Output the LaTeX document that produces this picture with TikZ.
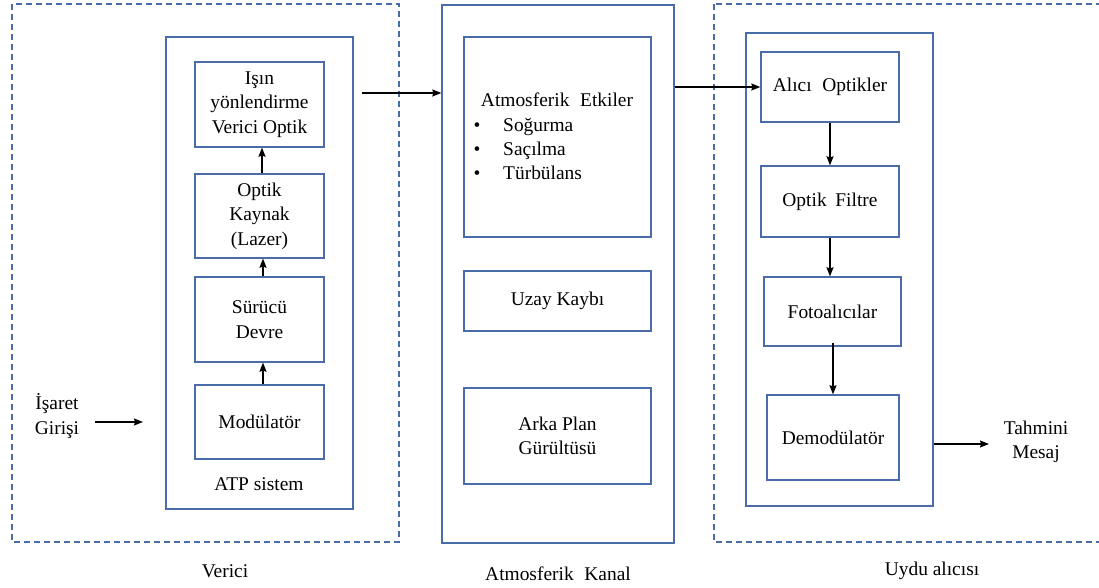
\documentclass[tikz,border=0pt]{standalone}
\usepackage{fontspec}
\setmainfont{Liberation Serif}
\usetikzlibrary{arrows.meta}
\definecolor{bord}{RGB}{74,108,170}
\tikzset{
  blk/.style={draw=bord, line width=1.3bp, rectangle, inner sep=0pt, align=center},
  grp/.style={draw=bord, line width=1.3bp, dash pattern=on 6bp off 4bp},
  arr/.style={draw=black, line width=1.3bp, -{Stealth[length=9bp,width=7bp,inset=1bp]}},
  lbl/.style={inner sep=0pt, align=center},
}
\begin{document}
\begin{tikzpicture}[x=1bp,y=-1bp,font=\fontsize{19.5}{24.5}\selectfont]
\clip (0,0) rectangle (1099,588);
\fill[white] (0,0) rectangle (1099,588);
% dashed group borders
\draw[grp] (12,4) rectangle (399,542);
\draw[grp] (714,4) rectangle (1120,542);
% Verici
\node[blk, minimum width=187bp, minimum height=472bp] (atp) at (259.5,273) {};
\node[blk, minimum width=129bp, minimum height=85bp] (isin) at (259.5,104.5) {Işın\\yönlendirme\\Verici Optik};
\node[blk, minimum width=129bp, minimum height=84bp] (kay) at (259.5,216) {Optik\\Kaynak\\(Lazer)};
\node[blk, minimum width=129bp, minimum height=85bp] (sur) at (259.5,319.5) {Sürücü\\Devre};
\node[blk, minimum width=129bp, minimum height=74bp] (mod) at (259.5,422) {Modülatör};
\node[lbl] (atplbl) at (259,484) {ATP sistem};
\node[lbl] (isaret) at (57,416) {İşaret\\Girişi};
\node[lbl] (verici) at (225,571) {Verici};
\coordinate (inA) at (95,422);
\coordinate (inB) at (143,422);
\draw[arr] (inA) -- (inB);
\draw[arr] ([xshift=3.5bp]mod.north) -- ([xshift=3.5bp]sur.south);
\draw[arr] ([xshift=3.5bp]sur.north) -- ([xshift=3.5bp]kay.south);
\draw[arr] ([xshift=2.5bp]kay.north) -- ([xshift=2.5bp]isin.south);
% Channel
\node[blk, minimum width=232bp, minimum height=538bp] (chan) at (558,274) {};
\node[blk, minimum width=187bp, minimum height=200bp] (etk) at (557.5,137) {};
\node[blk, minimum width=187bp, minimum height=60bp] (uzay) at (557.5,301) {Uzay Kaybı};
\node[blk, minimum width=187bp, minimum height=96bp] (arka) at (557.5,436) {Arka Plan\\Gürültüsü};
\node[lbl] (etkt) at (557,100) {Atmosferik\hspace{0.3em} Etkiler};
\node[lbl, anchor=base] (b1) at (477,132) {•};
\node[lbl, anchor=base] (b2) at (477,156) {•};
\node[lbl, anchor=base] (b3) at (477,180) {•};
\node[lbl, anchor=base west] (t1) at (503,132) {Soğurma};
\node[lbl, anchor=base west] (t2) at (503,156) {Saçılma};
\node[lbl, anchor=base west] (t3) at (503,180) {Türbülans};
\node[lbl] (kanal) at (558,574) {Atmosferik\hspace{0.3em} Kanal};
\coordinate (txo) at (362,93);
\draw[arr] (txo) -- (txo -| chan.west);
% Receiver
\node[blk, minimum width=187bp, minimum height=473bp] (rx) at (839.5,269.5) {};
\node[blk, minimum width=138bp, minimum height=70bp] (alici) at (830,87) {Alıcı\hspace{0.3em} Optikler};
\node[blk, minimum width=138bp, minimum height=71bp] (filt) at (830,201.5) {Optik\hspace{0.2em} Filtre};
\node[blk, minimum width=137bp, minimum height=69bp] (foto) at (832.5,311.5) {Fotoalıcılar};
\node[blk, minimum width=132bp, minimum height=85bp] (demod) at (833,437.5) {Demodülatör};
\node[lbl] (tahmini) at (1036,442) {Tahmini\\Mesaj};
\node[lbl] (uydu) at (932,571) {Uydu alıcısı};
\draw[arr] (alici.west -| chan.east) -- (alici.west);
\draw[arr] (alici.south) -- (filt.north);
\draw[arr] (filt.south) -- (filt.south |- foto.north);
\draw[arr] ([yshift=4bp]demod.north |- foto.south) -- (demod.north);
\coordinate (outB) at (989,444);
\draw[arr] (outB -| rx.east) -- (outB);
\end{tikzpicture}
\end{document}
